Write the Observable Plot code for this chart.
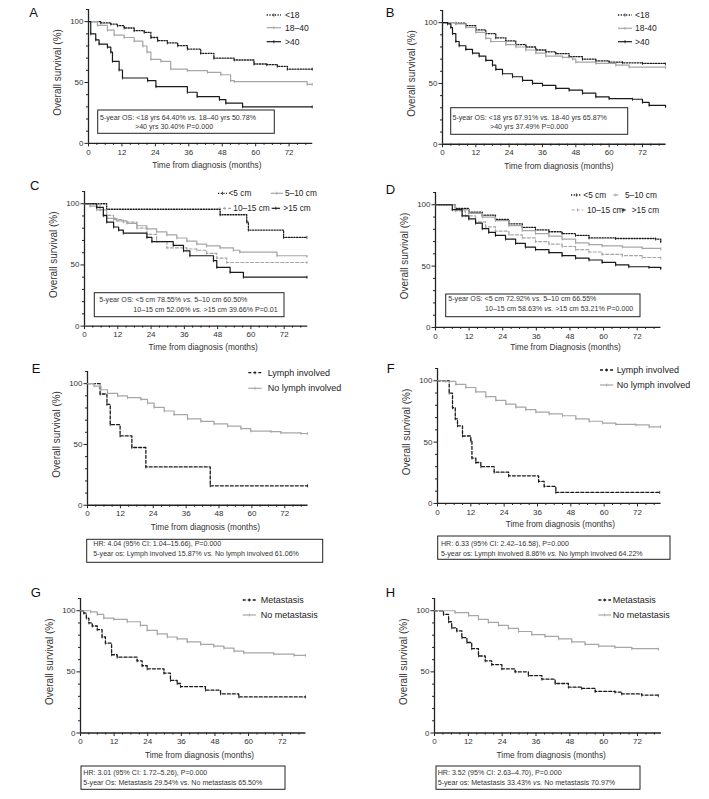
<!DOCTYPE html>
<html><head><meta charset="utf-8">
<script src="https://cdn.jsdelivr.net/npm/d3@7"></script>
<script src="https://cdn.jsdelivr.net/npm/@observablehq/plot@0.6"></script>
<style>
body{margin:0;background:#fff;}
#root{position:relative;width:709px;height:799px;background:#fff;overflow:hidden;font-family:"Liberation Sans",Arial,sans-serif;}
#root svg{position:absolute;}
</style></head><body><div id="root"></div>
<script>
// ---------- axis ticks & labels ----------
const xMajor = [0,12,24,36,48,60,72];
const xMinor = [3,6,9,15,18,21,27,30,33,39,42,45,51,54,57,63,66,69,75,78];
const yMajor = [0,50,100];
const yMinor = [10,20,30,40,60,70,80,90,110];
const yTitle = "Overall survival (%)";
const xTitle = "Time from diagnosis (months)";
const xTitleD = "Time from Diagnosis (months)";

const ageLabels = ["<18","18–40",">40"];
const ageLabelsB = ["<18","18-40",">40"];
const sizeLabels = ["<5 cm","5–10 cm","10–15 cm",">15 cm"];
const lymphLabels = ["Lymph involved","No lymph involved"];
const metLabels = ["Metastasis","No metastasis"];

const boxA = ["5-year OS: <18 yrs 64.40% vs. 18–40 yrs 50.78%", ">40 yrs 30.40% P=0.000"];
const boxB = ["5-year OS: <18 yrs 67.91% vs. 18-40 yrs 65.87%", ">40 yrs 37.49% P=0.000"];
const boxC = ["5-year OS: <5 cm 78.55% vs. 5–10 cm 60.50%", "10–15 cm 52.06% vs. >15 cm 39.66% P=0.01"];
const boxD = ["5-year OS: <5 cm 72.92% vs. 5–10 cm 66.55%", "10–15 cm 58.63% vs. >15 cm 53.21% P=0.000"];
const boxE = ["HR: 4.04 (95% CI: 1.04–15.66), P=0.000", "5-year os: Lymph involved 15.87% vs. No lymph involved 61.06%"];
const boxF = ["HR: 6.33 (95% CI: 2.42–16.58), P=0.000", "5-year os: Lymph involved 8.86% vs. No lymph involved 64.22%"];
const boxG = ["HR: 3.01 (95% CI: 1.72–5.26), P=0.000", "5-year Os: Metastasis 29.54% vs. No metastasis 65.50%"];
const boxH = ["HR: 3.52 (95% CI: 2.63–4.70), P=0.000", "5-year os: Metastasis 33.43% vs. No metastasis 70.97%"];

// ---------- survival curves [month, %] ----------
const A_lt18 = [[0,100],[4.4,99],[8,98],[10.4,96.7],[12.8,94.8],[16.4,92.6],[20,91.2],[22.4,87],[24.8,84.4],[28.3,82.5],[32,80.3],[35.5,77.5],[40.3,74],[45,70],[52.3,68.5],[59.4,65.2],[64,64.7],[67.8,63.3],[71.4,61],[80.3,61]];
const A_18_40 = [[0,100],[3.2,97],[6.8,93],[9.2,89],[12.8,87],[16.4,84],[19.5,80],[21,75],[22.4,69],[26,67.4],[29.5,61],[35.5,59.7],[42.7,58.4],[47.5,56.4],[51,51.5],[52.3,50.7],[78.5,48.5],[80.3,48.5]];
const A_gt40 = [[0,100],[0.8,90],[2.6,85],[3.8,81.6],[6.8,79],[8,75],[8.6,67.4],[11,60.3],[12.2,53.7],[21.2,51.5],[24.2,46.6],[35.5,42],[39,38.4],[47,36],[49.3,33],[55.3,30],[80.3,30]];

const B_lt18 = [[0,100],[4.8,99.5],[8.4,97.5],[12,94],[15.6,91],[19.2,87.5],[22.8,85],[26.4,82],[30,80],[33.6,77.5],[37.2,76],[40.8,74.5],[45.6,72],[50.4,70],[55.2,68.5],[60,67.5],[64.8,67],[72,66.5],[80.3,66]];
const B_18_40 = [[0,100],[4.8,99],[8.4,96],[12,92],[15.6,87],[17.4,84.5],[22.8,82],[26.4,80],[30,77.5],[33.6,75],[37.2,72.5],[43.2,71.5],[46.8,70],[48,67.5],[55.2,66.5],[62.4,65],[67.2,63.5],[80.3,63]];
const B_gt40 = [[0,100],[1.8,99],[3,96],[3.6,91],[4.8,84.5],[6,81],[8.4,78],[10.8,75],[13.2,72.5],[15.6,69],[18,65],[19.2,61.5],[21.6,58],[25.2,55.5],[28.8,52.5],[32.4,50],[36,48.5],[40.8,46],[45.6,44.5],[50.4,42],[55.2,39],[60,37.5],[68.4,37],[72,34.5],[74.4,32],[80.3,31]];

const C_lt5 = [[0,100],[8,95.5],[48.9,91],[58.5,85],[59.1,78.5],[71.8,72.5],[80.2,72.5]];
const C_5_10 = [[0,100],[2,98],[4.4,95],[6.8,90],[8,88],[11.7,86],[15.3,84],[18.9,82],[22.5,79.5],[26,77],[29.7,74.5],[33.3,72],[36.9,69.5],[40.5,67],[44,65.5],[48.9,64],[53.7,62],[56,60.5],[69.4,57.5],[80.2,57]];
const C_10_15 = [[0,100],[5.6,95],[8,90.5],[10.5,87],[14,85],[18.9,80],[22.5,75],[26,69],[29.7,64],[36.9,63],[40.5,62],[44,59.5],[47.7,55.5],[51.3,52],[80.2,52]];
const C_gt15 = [[0,100],[4.4,97],[6.8,90.5],[8,85],[10.5,81],[12.3,78.5],[14,76],[22.5,72.5],[24.3,69],[32,66],[35.7,61.5],[38,57.5],[46.5,53.5],[47.7,48],[52.5,44],[57.3,40],[80.2,40]];

const D_lt5 = [[0,100],[7.1,97],[11.9,94],[16.7,91.5],[21.4,88],[26.2,84.5],[31,81.5],[35.7,79.5],[40.5,78],[45.2,76.5],[50,75],[54.8,73],[64.3,72.5],[78.6,72],[80.4,70]];
const D_5_10 = [[0,100],[7.1,96],[11.9,93],[16.7,90],[21.4,87],[26.2,83],[31,79],[35.7,76.5],[40.5,74.5],[45.2,72],[50,69],[54.8,67.5],[59.5,66.5],[66.7,65.5],[73.8,64.5],[80.4,64]];
const D_10_15 = [[0,100],[7.1,95],[10.7,91],[14.3,86],[17.9,82],[21.4,78.5],[26.2,75.5],[31,73],[35.7,70],[40.5,68],[45.2,66],[50,63.5],[54.8,61.5],[59.5,59.5],[66.7,58.5],[73.8,57],[80.4,56.5]];
const D_gt15 = [[0,100],[6,96],[9.5,91],[11.9,88.5],[14.3,85],[16.7,80.5],[19,77.5],[21.4,75],[25,72],[28.6,68.5],[32.1,65.5],[35.7,63.5],[40.5,61],[45.2,58.5],[50,56.5],[54.8,55],[59.5,53],[64.3,51],[69,49.5],[76.2,49],[80.4,48]];

const E_lymph = [[0,100],[4.6,91.5],[7.1,83],[8.3,66.3],[11.9,57],[16.2,47.5],[21.3,31.5],[44.8,16],[80.3,16]];
const E_nolymph = [[0,100],[2.4,98],[4.9,95],[7.3,92],[11,90],[14.6,88.5],[19.5,87],[21.9,84],[24.3,80.5],[28,77.5],[31.6,74.5],[36.5,71],[41.4,69],[46.2,67],[51.1,65],[56,63],[59.6,61],[66.9,60.5],[70.6,59.5],[77.9,59],[80.3,59]];

const F_lymph = [[0,100],[4.2,90],[5.4,78],[6.4,69],[7.2,63.3],[9,55],[12,51],[12.4,37],[13.8,33.4],[15.6,30],[20.4,25.5],[25.6,22.5],[36.4,18],[38.4,14],[42.6,9],[80,9]];
const F_nolymph = [[0,100],[3,99.5],[6.6,97],[10.2,94.5],[13.8,91],[17.4,87],[21,84],[24.6,81],[28.2,78.5],[31.8,76.5],[35.4,74.5],[40.2,73],[45,71.5],[49.8,69],[54.6,67],[59.4,65.5],[64.2,64.5],[71.4,64],[76.2,62.5],[80.3,62.5]];

const G_met = [[0,100],[1.2,98],[2.1,94],[3,90],[4.2,87.5],[6,84.5],[7.7,78.5],[8.9,73.5],[11.1,64],[13.1,62],[20.2,59],[22,55],[23.8,52.5],[29.8,49],[32.1,43],[34.5,40.5],[35.7,38],[44.6,35],[50,32],[56.5,29.5],[80.3,29.5]];
const G_nomet = [[0,100],[3.6,99],[6,97],[8.3,94],[11.9,93],[16.7,91],[21.4,88],[23.8,84],[27.4,81],[31,78.5],[34.5,77],[38.1,74.5],[42.9,72.5],[47.6,71],[51.2,69.5],[54.8,67],[58.3,65.5],[69,64.5],[76.2,63.5],[80.3,63.5]];

const H_met = [[0,100],[3.2,97],[5,91],[6.1,86],[7.9,83.5],[9.7,78],[11.5,74],[13.2,69],[15.6,63],[18,59],[20.3,56],[23.9,52.5],[28.6,50],[33.3,47],[38.1,44],[42.8,40.5],[47.5,37.5],[52.2,36.5],[57,34],[64,33.5],[66.4,32],[73.5,31],[79.4,30.5]];
const H_nomet = [[0,100],[7.3,98.5],[12.1,96],[15.6,93],[19.1,90.5],[22.7,88],[26.2,85.5],[29.8,83],[34.5,80.5],[39.2,79],[44,77],[48.7,74.5],[53.4,72.5],[58.2,71],[64,70],[70,69],[79.4,68.5]];

// ---------- styles ----------
const FONT = "'Liberation Sans', Arial, Helvetica, sans-serif";
const styles = {
  dotted:   {stroke:"#1a1a1a", strokeWidth:1.3, strokeDasharray:"1.2,1.5"},
  grey:     {stroke:"#a6a6a6", strokeWidth:1.2},
  greyDash: {stroke:"#a6a6a6", strokeWidth:1.2, strokeDasharray:"3,2"},
  black:    {stroke:"#1a1a1a", strokeWidth:1.2},
  dashed:   {stroke:"#1a1a1a", strokeWidth:1.3, strokeDasharray:"3,2"}
};
const tickSymbol = {draw(ctx, size){ const r = Math.sqrt(size/Math.PI); ctx.moveTo(0,-r); ctx.lineTo(0,r); }};

// ---------- layout ----------
const panels = [
 {letter:"A", lx:29.3, ly:12.5, x0:87.7, x72:288.3, y0:142.7, y100:21, xt:[206,164.5], xTitle,
  series:[[A_lt18,"dotted"],[A_18_40,"grey"],[A_gt40,"black"]], labels:ageLabels, lfs:8.5,
  legend:[[266.7,281,15,285],[266.7,281,27.7,285],[266.7,281,41.7,285]],
  box:[97.7,110,274.3,133.3], text:boxA, tpos:[[100,117.3],[135,126.7]], italic:true},
 {letter:"B", lx:385.7, ly:12.5, x0:441.7, x72:641.7, y0:143.3, y100:21.7, xt:[558,165], xTitle,
  series:[[B_lt18,"dotted"],[B_18_40,"grey"],[B_gt40,"black"]], labels:ageLabelsB, lfs:8.5,
  legend:[[618,632,15,635],[618,632,28.3,635],[618,632,41.7,635]],
  box:[450.7,107.7,627.7,134.3], text:boxB, tpos:[[452.5,117.3],[490,126.7]], italic:false},
 {letter:"C", lx:30, ly:185.7, x0:84.3, x72:284, y0:325.7, y100:203.3, xt:[203,346.5], xTitle,
  series:[[C_lt5,"dotted"],[C_5_10,"grey"],[C_10_15,"greyDash"],[C_gt15,"black"]], labels:sizeLabels, lfs:8.3,
  legend:[[218,227,193.3,228.5],[270.7,283,193.3,285],[218,231.7,208.3,233.3],[271.7,280,208.3,283.3]],
  box:[94.3,292.7,284,316.7], text:boxC, tpos:[[99.3,299.3],[133.3,309.3]], italic:true},
 {letter:"D", lx:385.7, ly:189.2, x0:435, x72:636.7, y0:326.7, y100:204, xt:[565,347], xTitle:xTitleD,
  series:[[D_lt5,"dotted"],[D_5_10,"grey"],[D_10_15,"greyDash"],[D_gt15,"black"]], labels:sizeLabels, lfs:8.3,
  legend:[[571,581.7,195,583.3],[613.3,618.3,195,625],[571.7,583.3,210,587],[621.7,625.7,210,631.7]],
  box:[445.7,294,640,316.7], text:boxD, tpos:[[448.3,298.7],[485,309]], italic:true},
 {letter:"E", lx:31.7, ly:368.7, x0:86.7, x72:284, y0:504.3, y100:382.7, xt:[204.5,526.7], xTitle,
  series:[[E_lymph,"dashed"],[E_nolymph,"grey"]], labels:lymphLabels, lfs:9,
  legend:[[248.3,261.7,372.7,267.7],[248.3,261.7,388.3,267.7]],
  box:[86.7,539.3,322.7,562.3], text:boxE, tpos:[[93.3,544],[93.3,554]], italic:true},
 {letter:"F", lx:386.7, ly:368.3, x0:436.7, x72:636.7, y0:502.7, y100:380, xt:[559.5,524], xTitle,
  series:[[F_lymph,"dashed"],[F_nolymph,"grey"]], labels:lymphLabels, lfs:9,
  legend:[[600,613.3,370,616.7],[600,613.3,385,616.7]],
  box:[437.7,536,670,559.3], text:boxF, tpos:[[441,543.3],[441,553.3]], italic:true},
 {letter:"G", lx:30.7, ly:592, x0:80, x72:281.7, y0:732.3, y100:610, xt:[199,755], xTitle,
  series:[[G_met,"dashed"],[G_nomet,"grey"]], labels:metLabels, lfs:9,
  legend:[[242.7,256,600,260.7],[242.7,256,615,260.7]],
  box:[81,766,285,789.3], text:boxG, tpos:[[83.3,772.3],[83.3,782.3]], italic:false},
 {letter:"H", lx:385.7, ly:592, x0:434.3, x72:637.3, y0:732.3, y100:610, xt:[551,755], xTitle,
  series:[[H_met,"dashed"],[H_nomet,"grey"]], labels:metLabels, lfs:9,
  legend:[[598.3,611,600,612.7],[598.3,611,615,612.7]],
  box:[436,766,640,789.3], text:boxH, tpos:[[437.7,772.3],[437.7,782.3]], italic:true}
];

const root = document.getElementById("root");
const ML = 44, MR = 6, MT = 4, MB = 34, XMAX = 80.5, YMAX = 110;

for (const p of panels) {
  const ppm = (p.x72 - p.x0) / 72, ppp = (p.y0 - p.y100) / 100;
  const fw = XMAX * ppm, fh = YMAX * ppp;
  const marks = [
    Plot.axisX(xMinor, {tickSize:2, fill:"none", label:null, stroke:"#222"}),
    Plot.axisX(xMajor, {tickSize:3.5, tickPadding:2, label:null, stroke:"#222", fill:"#333", fontSize:8}),
    Plot.axisY(yMinor, {tickSize:2, fill:"none", label:null, stroke:"#222"}),
    Plot.axisY(yMajor, {tickSize:3.5, tickPadding:1.5, label:null, stroke:"#222", fill:"#333", fontSize:8}),
    Plot.ruleY([0], {stroke:"#222", strokeWidth:1.3}),
    Plot.ruleX([0], {stroke:"#222", strokeWidth:1.3}),
    Plot.text([p.xTitle], {frameAnchor:"bottom", textAnchor:"middle", lineAnchor:"middle",
      dy:p.xt[1]-p.y0, dx:p.xt[0]-(p.x0+fw/2), fontSize:8.3, fill:"#333"}),
    Plot.text([yTitle], {frameAnchor:"left", textAnchor:"middle", lineAnchor:"middle",
      dx:-31, dy:-4, rotate:-90, fontSize:10, fill:"#333"})
  ];
  for (const [data, st] of p.series) {
    const s = styles[st];
    marks.push(Plot.line(data, {x:d=>d[0], y:d=>d[1], curve:"step-after", ...s}));
    marks.push(Plot.dot(data.slice(1), {x:d=>d[0], y:d=>d[1], symbol:tickSymbol, r:1.5, stroke:s.stroke, strokeWidth:0.8}));
  }
  const chart = Plot.plot({
    width: fw + ML + MR, height: fh + MT + MB,
    marginLeft: ML, marginRight: MR, marginTop: MT, marginBottom: MB,
    x: {domain:[0, XMAX]}, y: {domain:[0, YMAX]},
    style: {fontFamily: FONT, fontSize:"8px", background:"transparent", color:"#222", overflow:"visible"},
    marks
  });
  chart.style.position = "absolute";
  chart.style.left = (p.x0 - ML) + "px";
  chart.style.top = (p.y0 - fh - MT) + "px";
  root.appendChild(chart);
}

// ---------- annotations overlay ----------
const ov = d3.select(root).append("svg")
  .attr("width", 709).attr("height", 799)
  .style("left", "0px").style("top", "0px")
  .style("font-family", FONT).style("pointer-events", "none");

for (const p of panels) {
  ov.append("text").attr("x", p.lx).attr("y", p.ly + 0.36*13)
    .attr("font-size", 13).attr("fill", "#111").text(p.letter);
  // legend
  p.legend.forEach(([x1, x2, y, tx], i) => {
    const s = styles[p.series[i][1]];
    ov.append("line").attr("x1", x1).attr("x2", x2).attr("y1", y).attr("y2", y)
      .attr("stroke", s.stroke).attr("stroke-width", s.strokeWidth)
      .attr("stroke-dasharray", s.strokeDasharray || null);
    ov.append("line").attr("x1", (x1+x2)/2).attr("x2", (x1+x2)/2).attr("y1", y-1.6).attr("y2", y+1.6)
      .attr("stroke", s.stroke).attr("stroke-width", 0.8);
    ov.append("text").attr("x", tx).attr("y", y + 0.35*p.lfs)
      .attr("font-size", p.lfs).attr("fill", "#222").text(p.labels[i]);
  });
  // box
  const [bx1, by1, bx2, by2] = p.box;
  ov.append("rect").attr("x", bx1).attr("y", by1).attr("width", bx2-bx1).attr("height", by2-by1)
    .attr("fill", "none").attr("stroke", "#222").attr("stroke-width", 1);
  p.text.forEach((line, i) => {
    const t = ov.append("text").attr("x", p.tpos[i][0]).attr("y", p.tpos[i][1] + 0.35*7.1)
      .attr("font-size", 7.1).attr("fill", "#333");
    const parts = line.split("vs.");
    parts.forEach((part, j) => {
      t.append("tspan").text(part);
      if (j < parts.length - 1) t.append("tspan").attr("font-style", p.italic ? "italic" : null).text("vs.");
    });
  });
}
</script></body></html>
